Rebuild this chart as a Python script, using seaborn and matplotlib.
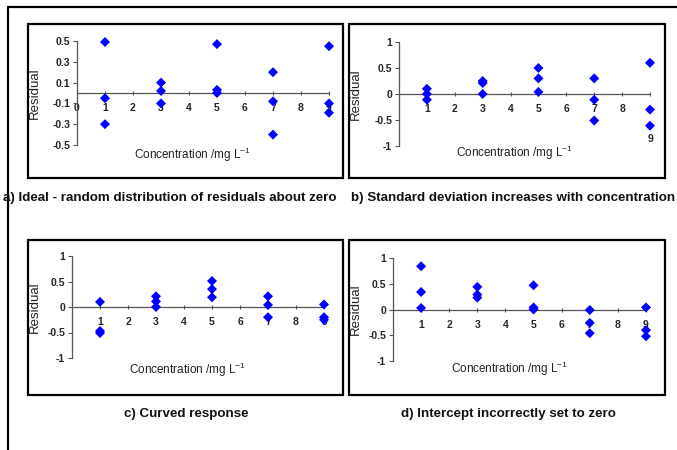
import matplotlib
matplotlib.use("Agg")
import matplotlib.pyplot as plt
import seaborn as sns
import pandas as pd
from matplotlib.patches import Rectangle
from matplotlib.lines import Line2D

sns.set_style("white")
plt.rcParams["font.family"] = ["Liberation Sans", "DejaVu Sans"]
plt.rcParams["axes.unicode_minus"] = False

W, H = 677, 450

# === Data ===
conc = [1, 1, 1, 3, 3, 3, 5, 5, 5, 7, 7, 7, 9, 9, 9]
res_a = [0.49, -0.05, -0.30, 0.10, 0.02, -0.10, 0.47, 0.03, 0.00, 0.20, -0.08, -0.40, 0.45, -0.10, -0.19]
res_b = [0.10, 0.00, -0.11, 0.25, 0.21, 0.00, 0.50, 0.30, 0.04, 0.30, -0.11, -0.51, 0.60, -0.30, -0.61]
res_c = [0.10, -0.47, -0.51, 0.21, 0.11, 0.00, 0.51, 0.35, 0.19, 0.21, 0.04, -0.20, 0.05, -0.20, -0.25]
res_d = [0.84, 0.34, 0.03, 0.44, 0.29, 0.23, 0.47, 0.04, 0.00, -0.01, -0.26, -0.46, 0.04, -0.40, -0.52]

captions = ["a) Ideal - random distribution of residuals about zero",
            "b) Standard deviation increases with concentration",
            "c) Curved response",
            "d) Intercept incorrectly set to zero"]

yticks_a = [-0.5, -0.3, -0.1, 0.1, 0.3, 0.5]
ylabels_a = ["-0.5", "-0.3", "-0.1", "0.1", "0.3", "0.5"]
yticks_b = [-1, -0.5, 0, 0.5, 1]
ylabels_b = ["-1", "-0.5", "0", "0.5", "1"]


def frac(l, t, r, b):
    return [l / W, 1 - b / H, (r - l) / W, (b - t) / H]


fig = plt.figure(figsize=(W / 100, H / 100), dpi=100)

# outer frame (top + left only)
fig.add_artist(Line2D([8 / W, 1], [1 - 7 / H, 1 - 7 / H], transform=fig.transFigure, color="black", lw=1.6))
fig.add_artist(Line2D([8 / W, 8 / W], [1 - 7 / H, 0], transform=fig.transFigure, color="black", lw=1.6))

# panel boxes
for (l, t, r, b) in [(28, 24, 343, 178), (349, 24, 665, 178), (28, 240, 343, 395), (349, 240, 665, 395)]:
    fig.add_artist(Rectangle((l / W, 1 - b / H), (r - l) / W, (b - t) / H,
                             transform=fig.transFigure, fill=False, ec="black", lw=1.6))

panels = [
    dict(res=res_a, box=(77, 41, 329, 145), ylim=(-0.5, 0.5), yt=yticks_a, yl=ylabels_a,
         xt=list(range(0, 10)), xlab_y=-0.10, ylab_x=-42),
    dict(res=res_b, box=(399, 42, 650, 146), ylim=(-1, 1), yt=yticks_b, yl=ylabels_b,
         xt=list(range(1, 10)), xlab_y=-0.07, ylab_x=-43),
    dict(res=res_c, box=(72, 256, 324, 358), ylim=(-1, 1), yt=yticks_b, yl=ylabels_b,
         xt=list(range(1, 10)), xlab_y=-0.12, ylab_x=-37),
    dict(res=res_d, box=(393, 258, 646, 361), ylim=(-1, 1), yt=yticks_b, yl=ylabels_b,
         xt=list(range(1, 10)), xlab_y=-0.08, ylab_x=-37),
]

for i, p in enumerate(panels):
    l, t, r, b = p["box"]
    ax = fig.add_axes(frac(l, t, r, b))
    ax.patch.set_alpha(0)
    df = pd.DataFrame({"Concentration": conc, "Residual": p["res"]})
    sns.scatterplot(data=df, x="Concentration", y="Residual", ax=ax, marker="D",
                    s=26, color="#0000ff", edgecolor="none", clip_on=False, zorder=5)
    ax.set_xlim(0, 9)
    ax.set_ylim(*p["ylim"])
    ax.spines["top"].set_visible(False)
    ax.spines["right"].set_visible(False)
    ax.spines["bottom"].set_position(("data", 0))
    for s in ["left", "bottom"]:
        ax.spines[s].set_color("#555555")
        ax.spines[s].set_linewidth(0.9)
    ax.set_yticks(p["yt"])
    ax.set_yticklabels(p["yl"], fontsize=7.5, fontweight="bold")
    xlabels = [str(v) for v in p["xt"]]
    if i == 1:
        xlabels[-1] = ""
    ax.set_xticks(p["xt"])
    ax.set_xticklabels(xlabels, fontsize=7.5, fontweight="bold")
    if i == 1:
        ax.text(9, -0.86, "9", ha="center", va="center", fontsize=7.5, fontweight="bold")
    ax.tick_params(axis="y", direction="out", length=3, width=0.8, color="#555555", pad=2, left=True)
    ax.tick_params(axis="x", direction="inout", length=3, width=0.8, color="#555555", pad=6, bottom=True)
    ax.set_xlabel("")
    ax.set_ylabel("")
    wpx = r - l
    ax.text(0.46, p["xlab_y"], "Concentration /mg L$^{\\mathregular{-1}}$", transform=ax.transAxes,
            ha="center", va="center", fontsize=8.5, color="#222222")
    ax.text(p["ylab_x"] / wpx, 0.5, "Residual", transform=ax.transAxes, rotation=90,
            ha="center", va="center", fontsize=9.5, color="#222222")

cap_kw = dict(fontsize=9.6, fontweight="bold", color="#111111")
fig.text(3 / W, 1 - 198 / H, captions[0], ha="left", va="center", **cap_kw)
fig.text(351 / W, 1 - 198 / H, captions[1], ha="left", va="center", **cap_kw)
fig.text(186 / W, 1 - 414 / H, captions[2], ha="center", va="center", **cap_kw)
fig.text(508 / W, 1 - 414 / H, captions[3], ha="center", va="center", **cap_kw)

fig.savefig("out.png", dpi=100)
